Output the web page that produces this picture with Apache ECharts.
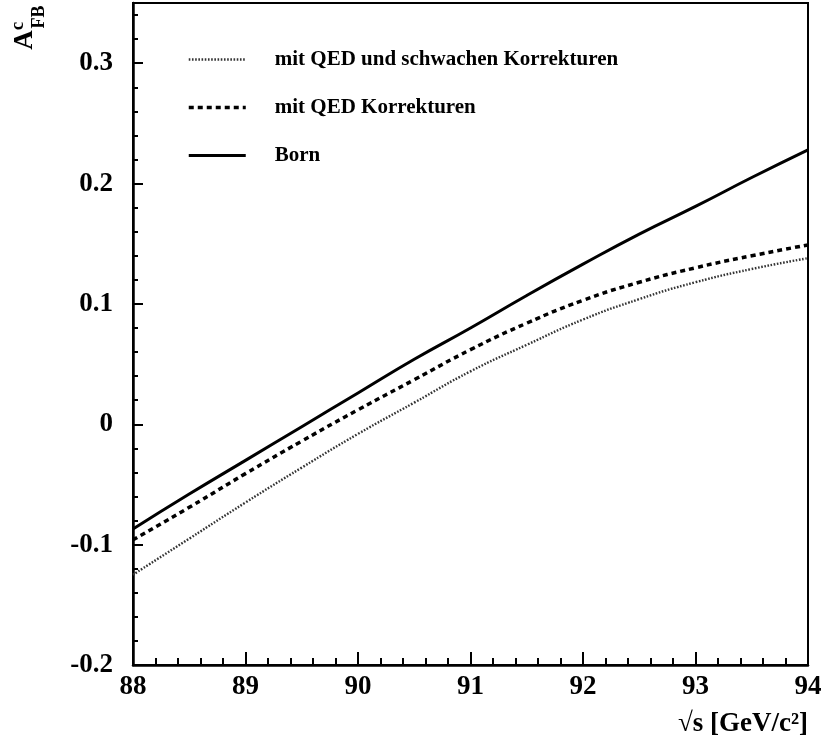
<!DOCTYPE html>
<html>
<head>
<meta charset="utf-8">
<script src="https://cdn.jsdelivr.net/npm/echarts@6/dist/echarts.min.js"></script>
<style>
  html, body { margin: 0; padding: 0; background: #fff; }
  #chart { width: 825px; height: 754px; }
</style>
</head>
<body>
<div id="chart"></div>
<script>
// Centre-of-mass energy sqrt(s) in GeV
const sqrtS = [88, 88.5, 89, 89.5, 90, 90.5, 91, 91.5, 92, 92.5, 93, 93.5, 94];

// Forward-backward asymmetry of charm quarks
const afbBorn     = [-0.087, -0.058, -0.030, -0.002, 0.026, 0.054, 0.080, 0.107, 0.133, 0.158, 0.181, 0.205, 0.228];
const afbQED      = [-0.096, -0.069, -0.041, -0.014, 0.012, 0.037, 0.062, 0.084, 0.103, 0.118, 0.130, 0.140, 0.149];
const afbQEDWeak  = [-0.125, -0.095, -0.065, -0.036, -0.008, 0.018, 0.044, 0.066, 0.087, 0.104, 0.118, 0.129, 0.138];

const seriesNames = [
  'mit QED und schwachen Korrekturen',
  'mit QED Korrekturen',
  'Born'
];

const FONT = '"Liberation Serif", "Times New Roman", serif';

const pairs = ys => sqrtS.map((x, i) => [x, ys[i]]);

const styles = [
  { color: '#333', width: 2.4, type: [1.6, 1.6] },
  { color: '#000', width: 3.5, type: [5, 4] },
  { color: '#000', width: 3, type: 'solid' }
];

const chart = echarts.init(document.getElementById('chart'), null, { renderer: 'canvas' });

chart.setOption({
  backgroundColor: '#fff',
  animation: false,
  grid: {
    left: 133, right: 17, top: 3, bottom: 89,
    show: true, borderColor: '#000', borderWidth: 2
  },
  legend: {
    orient: 'vertical',
    left: 182, top: 44,
    itemWidth: 57, itemHeight: 14, itemGap: 27,
    data: seriesNames.map((name, i) => ({ name, lineStyle: Object.assign({}, styles[i]) })),
    itemStyle: { opacity: 0 },
    textStyle: {
      fontFamily: FONT, fontWeight: 'bold', fontSize: 21, color: '#000',
      padding: [0, 0, 0, 24]
    }
  },
  xAxis: {
    type: 'value',
    min: 88, max: 94, interval: 1,
    axisLine: { show: true, onZero: false, lineStyle: { color: '#000', width: 2.5 } },
    axisTick: { show: true, inside: true, length: 13, lineStyle: { color: '#000', width: 2 } },
    minorTick: { show: true, splitNumber: 5, length: 7, lineStyle: { color: '#000', width: 2 } },
    splitLine: { show: false },
    axisLabel: {
      margin: 9, color: '#000', fontFamily: FONT, fontWeight: 'bold', fontSize: 27
    }
  },
  yAxis: {
    type: 'value',
    min: -0.2, max: 0.35, interval: 0.1,
    axisLine: { show: true, onZero: false, lineStyle: { color: '#000', width: 2.5 } },
    axisTick: { show: true, inside: true, length: 10, lineStyle: { color: '#000', width: 2 } },
    minorTick: { show: true, splitNumber: 5, length: 5, lineStyle: { color: '#000', width: 2 } },
    splitLine: { show: false },
    axisLabel: {
      margin: 20, color: '#000', fontFamily: FONT, fontWeight: 'bold', fontSize: 27,
      showMaxLabel: false,
      formatter: v => (Math.abs(v) < 1e-9 ? '0' : String(Math.round(v * 10) / 10))
    }
  },
  series: [
    {
      name: seriesNames[0], type: 'line', smooth: true, showSymbol: false, symbol: 'none',
      data: pairs(afbQEDWeak),
      itemStyle: { color: styles[0].color },
      lineStyle: styles[0]
    },
    {
      name: seriesNames[1], type: 'line', smooth: true, showSymbol: false, symbol: 'none',
      data: pairs(afbQED),
      itemStyle: { color: styles[1].color },
      lineStyle: styles[1]
    },
    {
      name: seriesNames[2], type: 'line', smooth: true, showSymbol: false, symbol: 'none',
      data: pairs(afbBorn),
      itemStyle: { color: styles[2].color },
      lineStyle: styles[2]
    }
  ],
  graphic: [
    // y-axis title A_FB^c, rotated
    { type: 'text', x: 25, y: 40, rotation: Math.PI / 2,
      style: { text: 'A', font: 'bold 27px ' + FONT, fill: '#000', align: 'center', verticalAlign: 'middle' } },
    { type: 'text', x: 39, y: 17, rotation: Math.PI / 2,
      style: { text: 'FB', font: 'bold 18px ' + FONT, fill: '#000', align: 'center', verticalAlign: 'middle' } },
    { type: 'text', x: 18, y: 26, rotation: Math.PI / 2,
      style: { text: 'c', font: 'bold 19px ' + FONT, fill: '#000', align: 'center', verticalAlign: 'middle' } },
    // x-axis title
    { type: 'text', x: 808, y: 738,
      style: { text: '√s [GeV/c²]', font: 'bold 27px ' + FONT, fill: '#000', align: 'right', verticalAlign: 'bottom' } }
  ]
});
</script>
</body>
</html>
